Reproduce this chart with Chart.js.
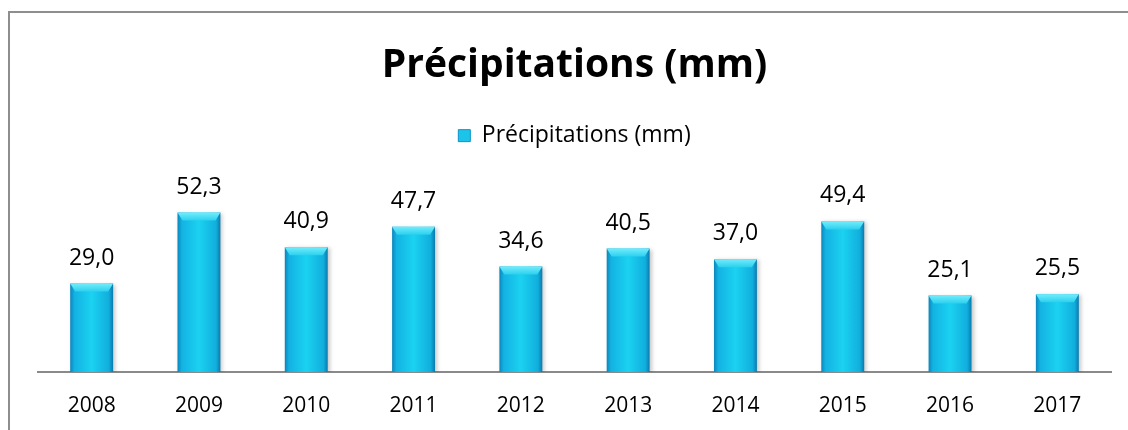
<!DOCTYPE html>
<html lang="fr">
<head>
<meta charset="utf-8">
<title>Précipitations (mm)</title>
<script src="https://cdn.jsdelivr.net/npm/chart.js@4/dist/chart.umd.min.js"></script>
<style>
  html, body { margin: 0; padding: 0; background: #fff; }
  body { width: 1128px; height: 430px; position: relative; overflow: hidden; }
  .frame {
    position: absolute; left: 8px; top: 11px; right: -10px; bottom: -10px;
    border-top: 2px solid #8e8e8e; border-left: 2px solid #8e8e8e;
  }
  #wrap { position: absolute; left: 0; top: 0; width: 1128px; height: 430px; }
</style>
</head>
<body>
<div class="frame"></div>
<div id="wrap"><canvas id="rain"></canvas></div>
<script>
const years = ['2008', '2009', '2010', '2011', '2012', '2013', '2014', '2015', '2016', '2017'];
const rainfall = [29.0, 52.3, 40.9, 47.7, 34.6, 40.5, 37.0, 49.4, 25.1, 25.5];
const seriesName = 'Précipitations (mm)';

const FONT = "'Open Sans', 'Noto Sans', sans-serif";
const BAR_PCT = 0.4;

const fmt = v => v.toFixed(1).replace('.', ',');

// horizontal shading across each bar, darker at the edges
function barFill(c) {
  const chart = c.chart;
  const area = chart.chartArea;
  if (!area || c.type !== 'data' || c.dataIndex === undefined) return '#1cc4ea';
  const x = chart.scales.x.getPixelForValue(c.dataIndex);
  const half = area.width / years.length * BAR_PCT / 2;
  const g = chart.ctx.createLinearGradient(x - half, 0, x + half, 0);
  g.addColorStop(0, '#0b86bb');
  g.addColorStop(0.1, '#13b2e2');
  g.addColorStop(0.5, '#1bd2f1');
  g.addColorStop(0.9, '#11aedd');
  g.addColorStop(1, '#0a7aae');
  return g;
}

const barShadow = {
  id: 'barShadow',
  beforeDatasetsDraw(chart) {
    const ctx = chart.ctx;
    ctx.save();
    ctx.shadowColor = 'rgba(0,0,0,0.22)';
    ctx.shadowBlur = 4;
    ctx.shadowOffsetX = 2;
    ctx.shadowOffsetY = 1;
  },
  afterDatasetsDraw(chart) {
    chart.ctx.restore();
  }
};

// light bevel on top of each bar + value labels
const barDecor = {
  id: 'barDecor',
  afterDatasetsDraw(chart) {
    const ctx = chart.ctx;
    const meta = chart.getDatasetMeta(0);
    ctx.save();
    meta.data.forEach((bar, i) => {
      const l = bar.x - bar.width / 2, r = bar.x + bar.width / 2;
      const g = ctx.createLinearGradient(0, bar.y, 0, bar.y + 8);
      g.addColorStop(0, '#72ecfb');
      g.addColorStop(1, '#2bd0ef');
      ctx.fillStyle = g;
      ctx.beginPath();
      ctx.moveTo(l, bar.y);
      ctx.lineTo(r, bar.y);
      ctx.lineTo(r - 5, bar.y + 8);
      ctx.lineTo(l + 5, bar.y + 8);
      ctx.closePath();
      ctx.fill();

      ctx.fillStyle = '#000';
      ctx.font = '23px ' + FONT;
      ctx.textAlign = 'center';
      ctx.textBaseline = 'alphabetic';
      ctx.fillText(fmt(rainfall[i]), bar.x, bar.y - 19);
    });
    ctx.restore();
  }
};

new Chart(document.getElementById('rain'), {
  type: 'bar',
  data: {
    labels: years,
    datasets: [{
      label: seriesName,
      data: rainfall,
      backgroundColor: barFill,
      borderWidth: 0,
      barPercentage: BAR_PCT,
      categoryPercentage: 1
    }]
  },
  options: {
    responsive: true,
    maintainAspectRatio: false,
    animation: false,
    layout: { padding: { top: 49, left: 38, right: 17, bottom: 11 } },
    plugins: {
      title: {
        display: true,
        text: seriesName,
        color: '#000',
        font: { family: FONT, size: 39, weight: 'bold', lineHeight: 0.85 },
        padding: { top: 0, bottom: 0 }
      },
      legend: {
        display: true,
        position: 'top',
        labels: {
          color: '#000',
          font: { family: FONT, size: 23 },
          boxWidth: 12,
          boxHeight: 12,
          padding: 42,
          generateLabels(chart) {
            return Chart.defaults.plugins.legend.labels.generateLabels(chart).map(item => {
              item.fillStyle = '#1cc4ea';
              item.strokeStyle = '#0b95c8';
              item.lineWidth = 1;
              return item;
            });
          }
        }
      },
      tooltip: { enabled: false }
    },
    scales: {
      x: {
        grid: { display: false, drawTicks: false },
        border: { display: true, color: '#8a8a8a', width: 2 },
        ticks: { color: '#000', font: { family: FONT, size: 21 }, padding: 21 },
        afterFit(scale) { scale.height = 47; }
      },
      y: {
        display: false,
        min: 0,
        max: 70.5
      }
    }
  },
  plugins: [barShadow, barDecor]
});
</script>
</body>
</html>
